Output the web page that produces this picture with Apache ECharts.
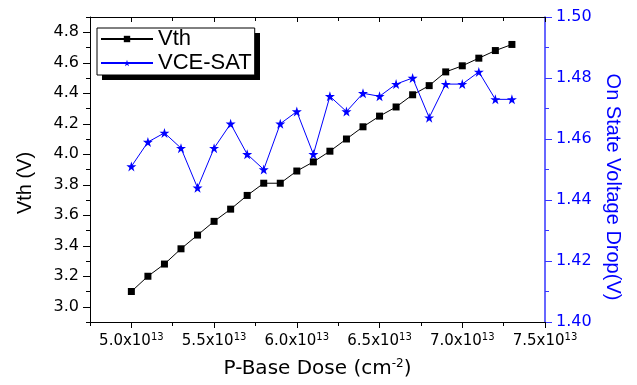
<!DOCTYPE html>
<html><head><meta charset="utf-8">
<script src="https://cdn.jsdelivr.net/npm/echarts@6/dist/echarts.min.js"></script>
<style>html,body{margin:0;padding:0;background:#fff}#c{width:637px;height:385px}</style>
</head><body><div id="c"></div>
<script>
// P-Base dose (units of 1e13 cm^-2)
const doses = [5.0,5.1,5.2,5.3,5.4,5.5,5.6,5.7,5.8,5.9,6.0,6.1,6.2,6.3,6.4,6.5,6.6,6.7,6.8,6.9,7.0,7.1,7.2,7.3];
// Threshold voltage (V)
const vth = [3.10,3.20,3.28,3.38,3.47,3.56,3.64,3.73,3.81,3.81,3.89,3.95,4.02,4.10,4.18,4.25,4.31,4.39,4.45,4.54,4.58,4.63,4.68,4.72];
// On-state voltage drop VCE-SAT (V)
const vceSat = [1.451,1.459,1.462,1.457,1.444,1.457,1.465,1.455,1.450,1.465,1.469,1.455,1.474,1.469,1.475,1.474,1.478,1.480,1.467,1.478,1.478,1.482,1.473,1.473];
// Tick values
const xMajorTicks = [5.0,5.5,6.0,6.5,7.0,7.5];
const xMinorTicks = [4.75,5.25,5.75,6.25,6.75,7.25];
const vthMajorTicks = [3.0,3.2,3.4,3.6,3.8,4.0,4.2,4.4,4.6,4.8];
const vthMinorTicks = [2.9,3.1,3.3,3.5,3.7,3.9,4.1,4.3,4.5,4.7,4.9];

const BLUE = '#0000ff';
const AXBLUE = '#3535ff';
const starPath = 'path://M0,-10L2.245,-3.09L9.51,-3.09L3.633,1.18L5.878,8.09L0,3.82L-5.878,8.09L-3.633,1.18L-9.51,-3.09L-2.245,-3.09Z';

const chart = echarts.init(document.getElementById('c'), null, {renderer:'canvas'});
const xBase = {type:'value', min:4.75, max:7.5, gridIndex:0, splitLine:{show:false}};
const yBase = {type:'value', min:2.9, max:4.9, splitLine:{show:false}};
chart.setOption({
  animation:false,
  backgroundColor:'#fff',
  grid:{left:90, right:92, top:17, bottom:62, containLabel:false},
  legend:{
    left:97, top:28, orient:'vertical', z:10,
    padding:[0,3,1,3], itemGap:2, itemWidth:52, itemHeight:8,
    backgroundColor:'#fff', borderColor:'#000', borderWidth:1,
    textStyle:{fontFamily:'Liberation Sans', fontSize:22, lineHeight:22, color:'#000'},
    data:['Vth','VCE-SAT']
  },
  xAxis:[
    Object.assign({}, xBase, {position:'bottom',
      axisLine:{show:true, lineStyle:{color:'#000', width:1}},
      axisTick:{show:true, inside:false, length:6, customValues:xMajorTicks, lineStyle:{color:'#000'}},
      axisLabel:{show:true, margin:10, customValues:xMajorTicks,
        formatter:v => '{a|' + v.toFixed(1) + 'x10}{s|13}',
        rich:{a:{fontFamily:'DejaVu Sans', fontSize:15, lineHeight:19, color:'#000'},
              s:{fontFamily:'DejaVu Sans', fontSize:10, lineHeight:10, verticalAlign:'top', color:'#000'}}},
      name:'P-Base Dose (cm{s|-2})', nameLocation:'middle', nameGap:36,
      nameTextStyle:{fontFamily:'DejaVu Sans', fontSize:20, lineHeight:22, color:'#000',
        rich:{s:{fontFamily:'DejaVu Sans', fontSize:12, lineHeight:12, verticalAlign:'top', color:'#000'}}}
    }),
    Object.assign({}, xBase, {position:'bottom',
      axisLine:{show:false},
      axisTick:{show:true, length:4, customValues:xMinorTicks, lineStyle:{color:'#000'}},
      axisLabel:{show:false}}),
    Object.assign({}, xBase, {position:'top',
      axisLine:{show:true, lineStyle:{color:'#000', width:1}},
      axisTick:{show:true, inside:true, length:5, customValues:xMajorTicks, lineStyle:{color:'#000'}},
      axisLabel:{show:false}}),
    Object.assign({}, xBase, {position:'top',
      axisLine:{show:false},
      axisTick:{show:true, inside:true, length:4, customValues:xMinorTicks, lineStyle:{color:'#000'}},
      axisLabel:{show:false}})
  ],
  yAxis:[
    Object.assign({}, yBase, {position:'left',
      axisLine:{show:true, lineStyle:{color:'#000', width:1}},
      axisTick:{show:true, length:7, customValues:vthMajorTicks, lineStyle:{color:'#000'}},
      axisLabel:{show:true, margin:11, customValues:vthMajorTicks,
        formatter:v => v.toFixed(1),
        fontFamily:'DejaVu Sans', fontSize:16, color:'#000'}}),
    Object.assign({}, yBase, {position:'left',
      axisLine:{show:false},
      axisTick:{show:true, length:4, customValues:vthMinorTicks, lineStyle:{color:'#000'}},
      axisLabel:{show:false}}),
    {type:'value', position:'right', min:1.40, max:1.50, interval:0.02, splitLine:{show:false},
      axisLine:{show:true, lineStyle:{color:AXBLUE, width:1.5}},
      axisTick:{show:true, length:7, lineStyle:{color:AXBLUE}},
      minorTick:{show:true, splitNumber:2, length:4, lineStyle:{color:AXBLUE}},
      axisLabel:{show:true, margin:11, formatter:v => v.toFixed(2),
        fontFamily:'DejaVu Sans', fontSize:16, color:BLUE}}
  ],
  graphic:[
    {type:'rect', z:9, shape:{x:102, y:33, width:158, height:47}, style:{fill:'#000'}},
    {type:'text', x:25, y:183, rotation:Math.PI/2,
      style:{text:'Vth (V)', font:'20px "Liberation Sans"', fill:'#000', align:'center', verticalAlign:'middle'}},
    {type:'text', x:613, y:187, rotation:-Math.PI/2,
      style:{text:'On State Voltage Drop(V)', font:'20px "Liberation Sans"', fill:BLUE, align:'center', verticalAlign:'middle'}}
  ],
  series:[
    {name:'Vth', type:'line', xAxisIndex:0, yAxisIndex:0,
      data:doses.map((d,i)=>[d, vth[i]]),
      symbol:'rect', symbolSize:7,
      lineStyle:{color:'#000', width:1}, itemStyle:{color:'#000'}, z:3},
    {name:'VCE-SAT', type:'line', xAxisIndex:0, yAxisIndex:2,
      data:doses.map((d,i)=>[d, vceSat[i]]),
      symbol:starPath, symbolSize:10,
      lineStyle:{color:BLUE, width:1}, itemStyle:{color:BLUE}, z:4}
  ]
});
</script></body></html>
